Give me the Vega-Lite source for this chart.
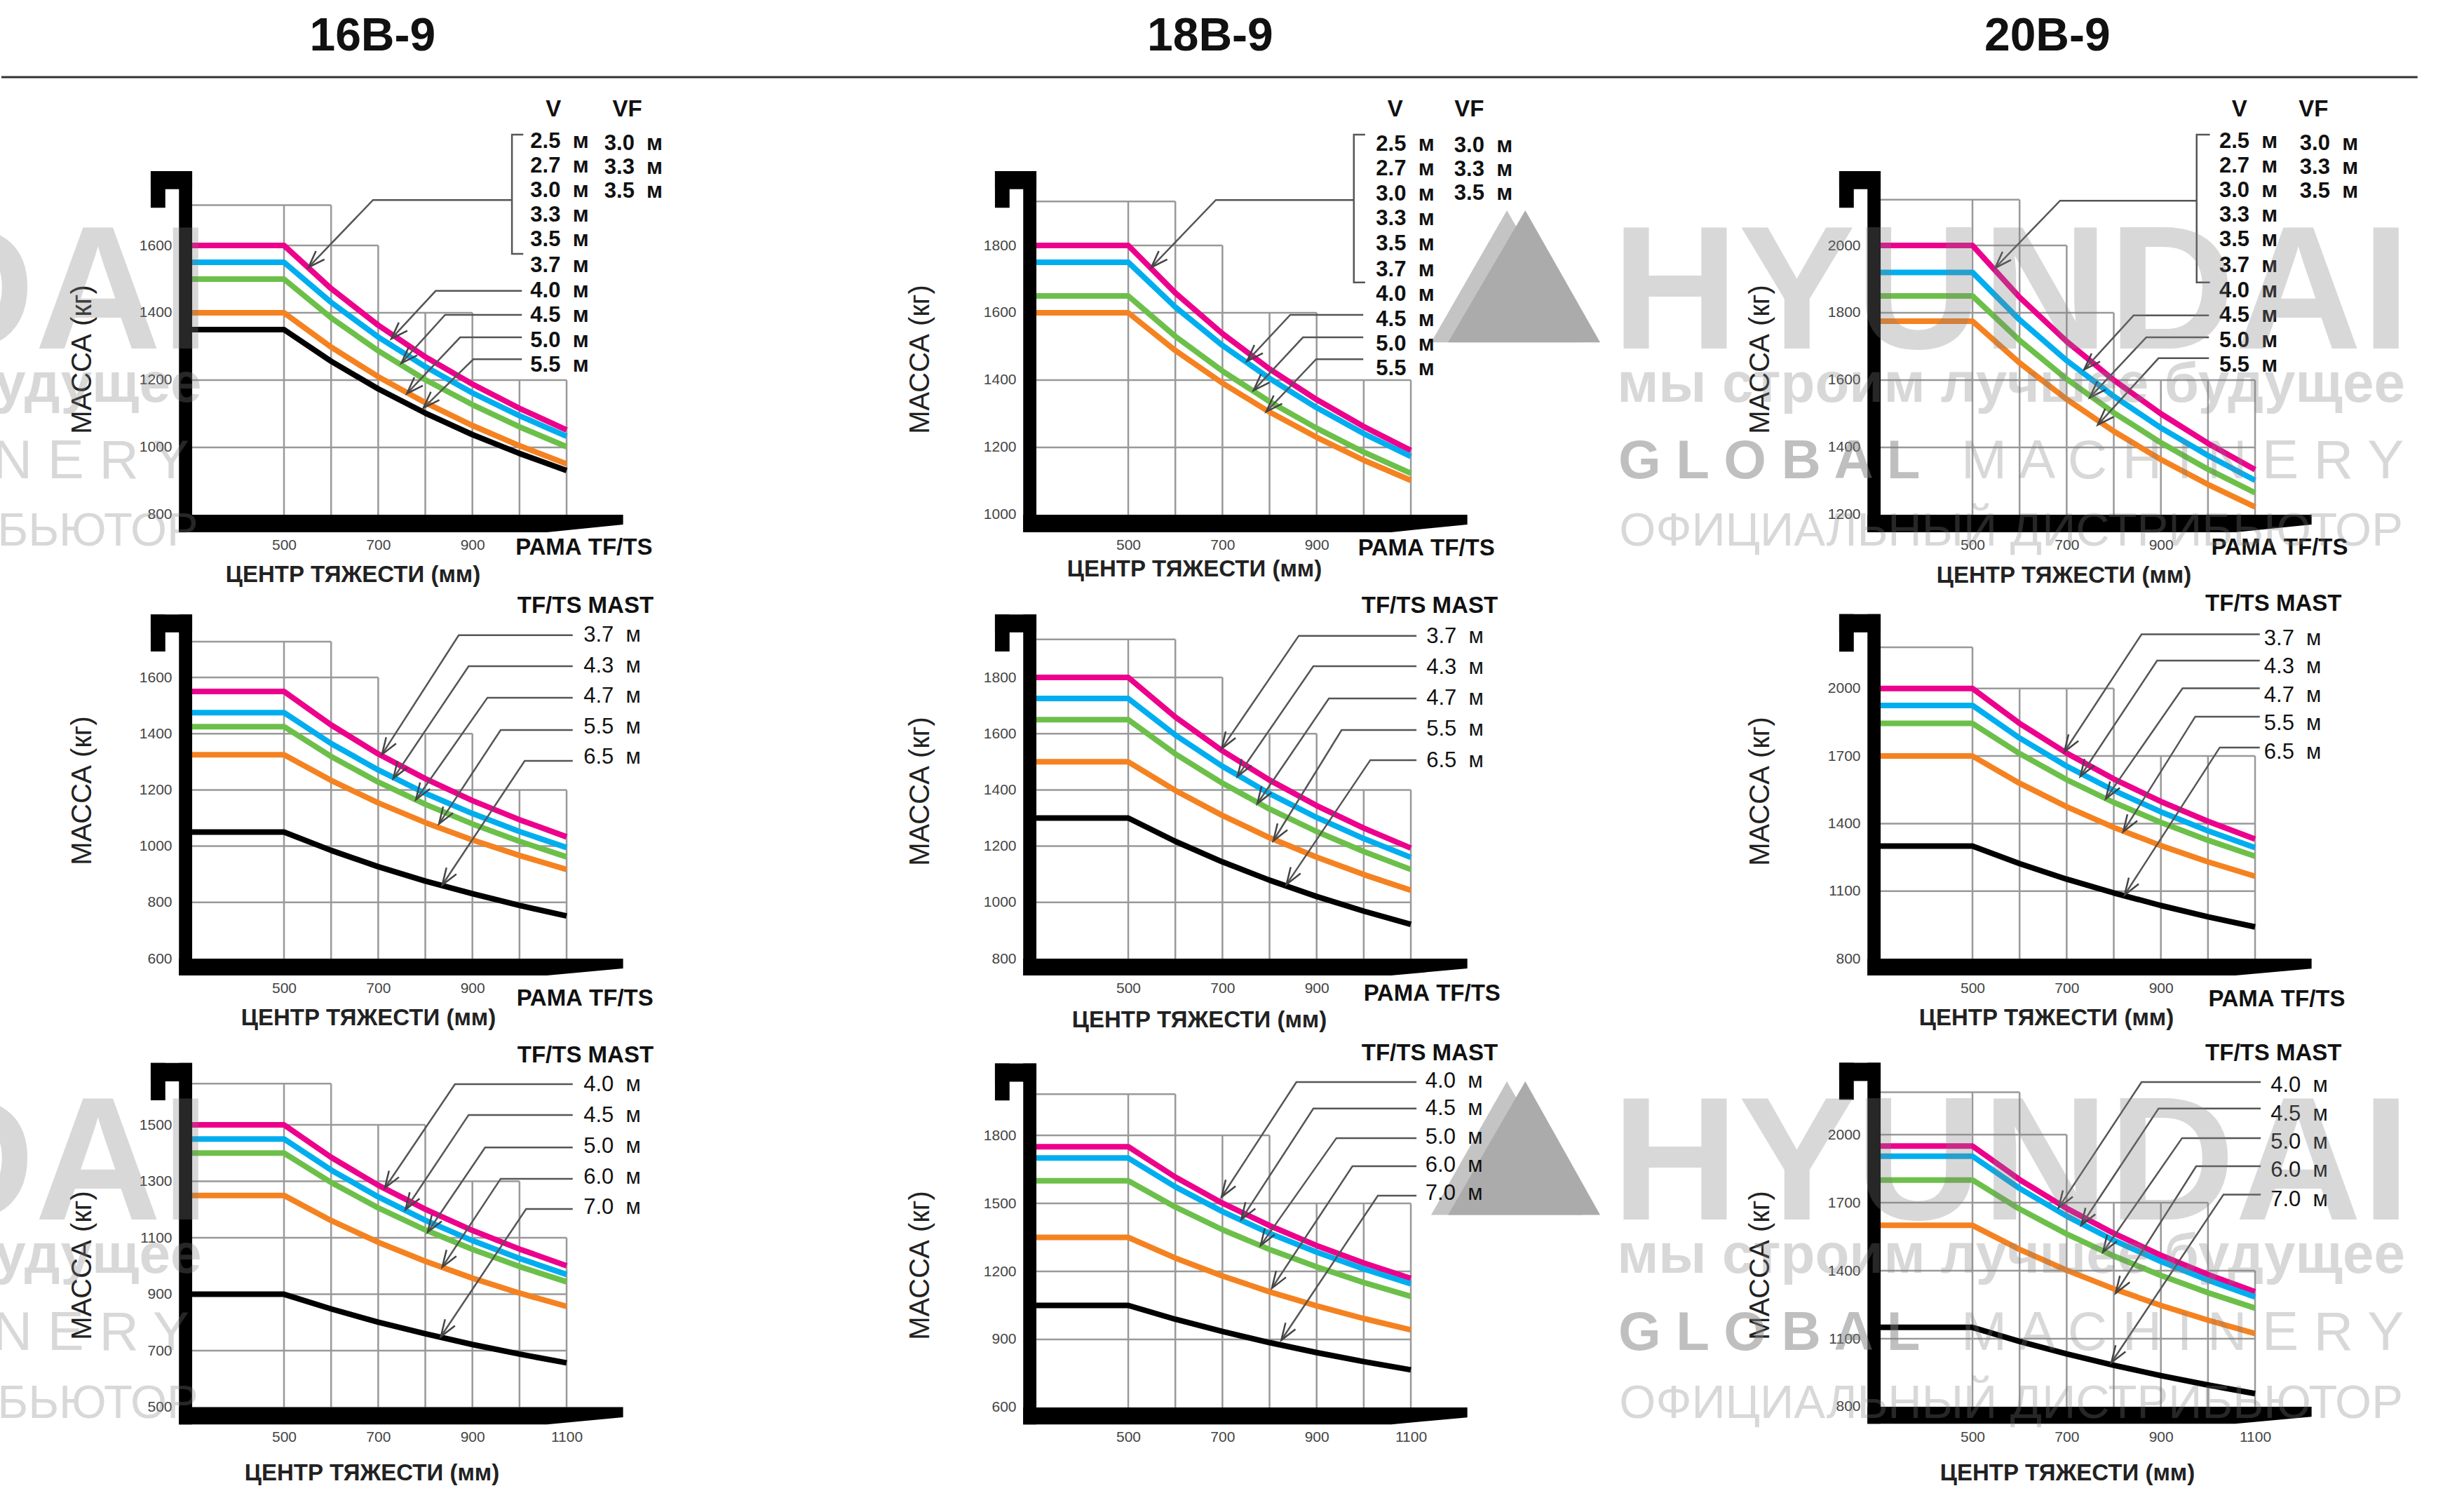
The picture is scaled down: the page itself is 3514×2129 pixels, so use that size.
{"$schema":"https://vega.github.io/schema/vega-lite/v6.json","padding":0,"autosize":{"type":"pad"},"background":"white","bounds":"flush","spacing":0,"columns":3,"align":"each",
"config":{"numberFormat":"d","view":{"stroke":null},"rule":{"color":"#999999","strokeWidth":2.5},"line":{"color":"#555555","strokeWidth":2.5},"axis":{"domain":false,"ticks":false,"grid":false,"labelFont":"Liberation Sans","labelFontSize":21,"labelColor":"#444","labelOverlap":false,"labelFlush":false,"titleFont":"Liberation Sans","titleColor":"#222","titleBaseline":"middle"},"axisX":{"titleFontSize":33,"titleFontWeight":"bold","labelPadding":7,"labelAngle":0},"axisY":{"titleFontSize":40,"titleFontWeight":"normal","labelPadding":10},
"text":{"font":"Liberation Sans","baseline":"middle","color":"#111"},
"style":{"lb":{"align":"left","fontSize":31,"fontWeight":"bold"},"lr":{"align":"left","fontSize":31,"fontWeight":"normal"},"ce":{"align":"center","fontSize":33,"fontWeight":"bold"},"hd":{"align":"center","fontSize":66,"fontWeight":"bold"},"wm":{"baseline":"alphabetic","color":"#808080","opacity":0.3}}},
"datasets":{
"a1":[
{"k":"g","x":500,"x2":500,"y":800,"y2":1720},{"k":"g","x":600,"x2":600,"y":800,"y2":1720},{"k":"g","x":700,"x2":700,"y":800,"y2":1600},{"k":"g","x":800,"x2":800,"y":800,"y2":1400},{"k":"g","x":900,"x2":900,"y":800,"y2":1400},{"k":"g","x":1000,"x2":1000,"y":800,"y2":1200},{"k":"g","x":1100,"x2":1100,"y":800,"y2":1200},
{"k":"g","x":305,"x2":600,"y":1720,"y2":1720},{"k":"g","x":305,"x2":700,"y":1600,"y2":1600},{"k":"g","x":305,"x2":900,"y":1400,"y2":1400},{"k":"g","x":305,"x2":1100,"y":1200,"y2":1200},{"k":"g","x":305,"x2":1100,"y":1000,"y2":1000},
{"k":"c","s":"m","x":305,"y":1600},{"k":"c","s":"m","x":500,"y":1600},{"k":"c","s":"m","x":600,"y":1472},{"k":"c","s":"m","x":700,"y":1363},{"k":"c","s":"m","x":800,"y":1269},{"k":"c","s":"m","x":900,"y":1188},{"k":"c","s":"m","x":1000,"y":1116},{"k":"c","s":"m","x":1100,"y":1052},
{"k":"c","s":"b","x":305,"y":1550},{"k":"c","s":"b","x":500,"y":1550},{"k":"c","s":"b","x":600,"y":1431},{"k":"c","s":"b","x":700,"y":1328},{"k":"c","s":"b","x":800,"y":1240},{"k":"c","s":"b","x":900,"y":1162},{"k":"c","s":"b","x":1000,"y":1094},{"k":"c","s":"b","x":1100,"y":1033},
{"k":"c","s":"g","x":305,"y":1500},{"k":"c","s":"g","x":500,"y":1500},{"k":"c","s":"g","x":600,"y":1385},{"k":"c","s":"g","x":700,"y":1287},{"k":"c","s":"g","x":800,"y":1201},{"k":"c","s":"g","x":900,"y":1127},{"k":"c","s":"g","x":1000,"y":1061},{"k":"c","s":"g","x":1100,"y":1002},
{"k":"c","s":"o","x":305,"y":1400},{"k":"c","s":"o","x":500,"y":1400},{"k":"c","s":"o","x":600,"y":1298},{"k":"c","s":"o","x":700,"y":1210},{"k":"c","s":"o","x":800,"y":1133},{"k":"c","s":"o","x":900,"y":1065},{"k":"c","s":"o","x":1000,"y":1005},{"k":"c","s":"o","x":1100,"y":951},
{"k":"c","s":"k","x":305,"y":1350},{"k":"c","s":"k","x":500,"y":1350},{"k":"c","s":"k","x":600,"y":1256},{"k":"c","s":"k","x":700,"y":1174},{"k":"c","s":"k","x":800,"y":1102},{"k":"c","s":"k","x":900,"y":1038},{"k":"c","s":"k","x":1000,"y":982},{"k":"c","s":"k","x":1100,"y":931},
{"k":"f","x":277,"x2":305,"y":748,"y2":1821},{"k":"f","x":217,"x2":305,"y":1767,"y2":1821},{"k":"f","x":217,"x2":248,"y":1712,"y2":1821},
{"k":"b","x":277,"y":800,"y2":748},{"k":"b","x":1058,"y":800,"y2":748},{"k":"b","x":1220,"y":800,"y2":771},
{"k":"l","id":0,"x":1008,"y":1929},{"k":"l","id":0,"x":984,"y":1929},{"k":"l","id":0,"x":984,"y":1575},{"k":"l","id":0,"x":1008,"y":1575},
{"k":"l","id":1,"x":984,"y":1735},{"k":"l","id":1,"x":689,"y":1735},{"k":"l","id":1,"x":552,"y":1535,"a":1},
{"k":"l","id":2,"x":1005,"y":1465},{"k":"l","id":2,"x":822,"y":1465},{"k":"l","id":2,"x":728,"y":1323,"a":1},
{"k":"l","id":3,"x":1005,"y":1394},{"k":"l","id":3,"x":842,"y":1394},{"k":"l","id":3,"x":749,"y":1250,"a":1},
{"k":"l","id":4,"x":1005,"y":1327},{"k":"l","id":4,"x":874,"y":1327},{"k":"l","id":4,"x":761,"y":1160,"a":1},
{"k":"l","id":5,"x":1005,"y":1262},{"k":"l","id":5,"x":902,"y":1262},{"k":"l","id":5,"x":796,"y":1117,"a":1},
{"k":"t","x":1023,"y":1908,"t":"2.5\u00a0 м"},{"k":"t","x":1023,"y":1835,"t":"2.7\u00a0 м"},{"k":"t","x":1023,"y":1762,"t":"3.0\u00a0 м"},{"k":"t","x":1023,"y":1690,"t":"3.3\u00a0 м"},{"k":"t","x":1023,"y":1616,"t":"3.5\u00a0 м"},{"k":"t","x":1023,"y":1540,"t":"3.7\u00a0 м"},{"k":"t","x":1023,"y":1465,"t":"4.0\u00a0 м"},{"k":"t","x":1023,"y":1392,"t":"4.5\u00a0 м"},{"k":"t","x":1023,"y":1317,"t":"5.0\u00a0 м"},{"k":"t","x":1023,"y":1244,"t":"5.5\u00a0 м"},
{"k":"t","x":1180,"y":1902,"t":"3.0\u00a0 м"},{"k":"t","x":1180,"y":1831,"t":"3.3\u00a0 м"},{"k":"t","x":1180,"y":1760,"t":"3.5\u00a0 м"},
{"k":"u","x":1072,"y":2004,"t":"V"},{"k":"u","x":1229,"y":2004,"t":"VF"},{"k":"u","x":1137,"y":702,"t":"РАМА TF/TS"},
{"k":"h","x":688,"y":2221,"t":"16B-9"},{"k":"r","x":-100,"x2":1689.5,"y":2100,"y2":2100},
{"k":"W","x":343,"y":1294,"t":"DAI"},{"k":"X","x":325,"y":1135,"t":"удущее"},{"k":"Z","x":299,"y":908,"t":"N E R Y"},{"k":"O","x":318,"y":708,"t":"БЬЮТОР"}],
"b1":[
{"k":"g","x":500,"x2":500,"y":1000,"y2":1931},{"k":"g","x":600,"x2":600,"y":1000,"y2":1931},{"k":"g","x":700,"x2":700,"y":1000,"y2":1800},{"k":"g","x":800,"x2":800,"y":1000,"y2":1600},{"k":"g","x":900,"x2":900,"y":1000,"y2":1600},{"k":"g","x":1000,"x2":1000,"y":1000,"y2":1400},{"k":"g","x":1100,"x2":1100,"y":1000,"y2":1400},
{"k":"g","x":305,"x2":600,"y":1931,"y2":1931},{"k":"g","x":305,"x2":700,"y":1800,"y2":1800},{"k":"g","x":305,"x2":900,"y":1600,"y2":1600},{"k":"g","x":305,"x2":1100,"y":1400,"y2":1400},{"k":"g","x":305,"x2":1100,"y":1200,"y2":1200},
{"k":"c","s":"m","x":305,"y":1800},{"k":"c","s":"m","x":500,"y":1800},{"k":"c","s":"m","x":600,"y":1659},{"k":"c","s":"m","x":700,"y":1538},{"k":"c","s":"m","x":800,"y":1433},{"k":"c","s":"m","x":900,"y":1342},{"k":"c","s":"m","x":1000,"y":1262},{"k":"c","s":"m","x":1100,"y":1191},
{"k":"c","s":"b","x":305,"y":1750},{"k":"c","s":"b","x":500,"y":1750},{"k":"c","s":"b","x":600,"y":1617},{"k":"c","s":"b","x":700,"y":1503},{"k":"c","s":"b","x":800,"y":1405},{"k":"c","s":"b","x":900,"y":1318},{"k":"c","s":"b","x":1000,"y":1241},{"k":"c","s":"b","x":1100,"y":1173},
{"k":"c","s":"g","x":305,"y":1650},{"k":"c","s":"g","x":500,"y":1650},{"k":"c","s":"g","x":600,"y":1530},{"k":"c","s":"g","x":700,"y":1427},{"k":"c","s":"g","x":800,"y":1336},{"k":"c","s":"g","x":900,"y":1257},{"k":"c","s":"g","x":1000,"y":1186},{"k":"c","s":"g","x":1100,"y":1123},
{"k":"c","s":"o","x":305,"y":1600},{"k":"c","s":"o","x":500,"y":1600},{"k":"c","s":"o","x":600,"y":1488},{"k":"c","s":"o","x":700,"y":1391},{"k":"c","s":"o","x":800,"y":1305},{"k":"c","s":"o","x":900,"y":1230},{"k":"c","s":"o","x":1000,"y":1162},{"k":"c","s":"o","x":1100,"y":1102},
{"k":"f","x":277,"x2":305,"y":948,"y2":2021},{"k":"f","x":217,"x2":305,"y":1967,"y2":2021},{"k":"f","x":217,"x2":248,"y":1912,"y2":2021},
{"k":"b","x":277,"y":1000,"y2":948},{"k":"b","x":1058,"y":1000,"y2":948},{"k":"b","x":1220,"y":1000,"y2":971},
{"k":"l","id":0,"x":1003,"y":2129},{"k":"l","id":0,"x":979,"y":2129},{"k":"l","id":0,"x":979,"y":1690},{"k":"l","id":0,"x":1003,"y":1690},
{"k":"l","id":1,"x":979,"y":1935},{"k":"l","id":1,"x":686,"y":1935},{"k":"l","id":1,"x":549,"y":1735,"a":1},
{"k":"l","id":3,"x":999,"y":1594},{"k":"l","id":3,"x":844,"y":1594},{"k":"l","id":3,"x":752,"y":1456,"a":1},
{"k":"l","id":4,"x":999,"y":1527},{"k":"l","id":4,"x":871,"y":1527},{"k":"l","id":4,"x":766,"y":1369,"a":1},
{"k":"l","id":5,"x":999,"y":1462},{"k":"l","id":5,"x":899,"y":1462},{"k":"l","id":5,"x":793,"y":1306,"a":1},
{"k":"t","x":1026,"y":2100,"t":"2.5\u00a0 м"},{"k":"t","x":1026,"y":2027,"t":"2.7\u00a0 м"},{"k":"t","x":1026,"y":1952,"t":"3.0\u00a0 м"},{"k":"t","x":1026,"y":1879,"t":"3.3\u00a0 м"},{"k":"t","x":1026,"y":1804,"t":"3.5\u00a0 м"},{"k":"t","x":1026,"y":1727,"t":"3.7\u00a0 м"},{"k":"t","x":1026,"y":1654,"t":"4.0\u00a0 м"},{"k":"t","x":1026,"y":1579,"t":"4.5\u00a0 м"},{"k":"t","x":1026,"y":1507,"t":"5.0\u00a0 м"},{"k":"t","x":1026,"y":1433,"t":"5.5\u00a0 м"},
{"k":"t","x":1192,"y":2096,"t":"3.0\u00a0 м"},{"k":"t","x":1192,"y":2025,"t":"3.3\u00a0 м"},{"k":"t","x":1192,"y":1954,"t":"3.5\u00a0 м"},
{"k":"u","x":1067,"y":2204,"t":"V"},{"k":"u","x":1224,"y":2204,"t":"VF"},{"k":"u","x":1133,"y":900,"t":"РАМА TF/TS"},
{"k":"h","x":674,"y":2421,"t":"18B-9"},{"k":"r","x":-103,"x2":1689.5,"y":2300,"y2":2300},
{"k":"w1","x":1143,"y":1512,"y2":1512},{"k":"w1","x":1304,"y":1904,"y2":1512},{"k":"w1","x":1465,"y":1512,"y2":1512},
{"k":"w2","x":1179,"y":1512,"y2":1512},{"k":"w2","x":1343,"y":1904,"y2":1512},{"k":"w2","x":1502,"y":1512,"y2":1512}],
"c1":[
{"k":"g","x":500,"x2":500,"y":1200,"y2":2136},{"k":"g","x":600,"x2":600,"y":1200,"y2":2136},{"k":"g","x":700,"x2":700,"y":1200,"y2":2000},{"k":"g","x":800,"x2":800,"y":1200,"y2":1800},{"k":"g","x":900,"x2":900,"y":1200,"y2":1600},{"k":"g","x":1000,"x2":1000,"y":1200,"y2":1600},{"k":"g","x":1100,"x2":1100,"y":1200,"y2":1600},
{"k":"g","x":305,"x2":600,"y":2136,"y2":2136},{"k":"g","x":305,"x2":700,"y":2000,"y2":2000},{"k":"g","x":305,"x2":800,"y":1800,"y2":1800},{"k":"g","x":305,"x2":1100,"y":1600,"y2":1600},{"k":"g","x":305,"x2":1100,"y":1400,"y2":1400},
{"k":"c","s":"m","x":305,"y":2000},{"k":"c","s":"m","x":500,"y":2000},{"k":"c","s":"m","x":600,"y":1846},{"k":"c","s":"m","x":700,"y":1715},{"k":"c","s":"m","x":800,"y":1600},{"k":"c","s":"m","x":900,"y":1500},{"k":"c","s":"m","x":1000,"y":1412},{"k":"c","s":"m","x":1100,"y":1334},
{"k":"c","s":"b","x":305,"y":1920},{"k":"c","s":"b","x":500,"y":1920},{"k":"c","s":"b","x":600,"y":1779},{"k":"c","s":"b","x":700,"y":1658},{"k":"c","s":"b","x":800,"y":1552},{"k":"c","s":"b","x":900,"y":1458},{"k":"c","s":"b","x":1000,"y":1376},{"k":"c","s":"b","x":1100,"y":1302},
{"k":"c","s":"g","x":305,"y":1850},{"k":"c","s":"g","x":500,"y":1850},{"k":"c","s":"g","x":600,"y":1718},{"k":"c","s":"g","x":700,"y":1603},{"k":"c","s":"g","x":800,"y":1503},{"k":"c","s":"g","x":900,"y":1414},{"k":"c","s":"g","x":1000,"y":1335},{"k":"c","s":"g","x":1100,"y":1265},
{"k":"c","s":"o","x":305,"y":1775},{"k":"c","s":"o","x":500,"y":1775},{"k":"c","s":"o","x":600,"y":1651},{"k":"c","s":"o","x":700,"y":1543},{"k":"c","s":"o","x":800,"y":1448},{"k":"c","s":"o","x":900,"y":1364},{"k":"c","s":"o","x":1000,"y":1290},{"k":"c","s":"o","x":1100,"y":1223},
{"k":"f","x":277,"x2":305,"y":1148,"y2":2221},{"k":"f","x":217,"x2":305,"y":2167,"y2":2221},{"k":"f","x":217,"x2":248,"y":2112,"y2":2221},
{"k":"b","x":277,"y":1200,"y2":1148},{"k":"b","x":1058,"y":1200,"y2":1148},{"k":"b","x":1220,"y":1200,"y2":1171},
{"k":"l","id":0,"x":1004,"y":2329},{"k":"l","id":0,"x":976,"y":2329},{"k":"l","id":0,"x":976,"y":1890},{"k":"l","id":0,"x":1004,"y":1890},
{"k":"l","id":1,"x":976,"y":2133},{"k":"l","id":1,"x":686,"y":2133},{"k":"l","id":1,"x":548,"y":1933,"a":1},
{"k":"l","id":3,"x":1002,"y":1792},{"k":"l","id":3,"x":842,"y":1792},{"k":"l","id":3,"x":737,"y":1631,"a":1},
{"k":"l","id":4,"x":1002,"y":1727},{"k":"l","id":4,"x":869,"y":1727},{"k":"l","id":4,"x":749,"y":1548,"a":1},
{"k":"l","id":5,"x":1002,"y":1665},{"k":"l","id":5,"x":895,"y":1665},{"k":"l","id":5,"x":766,"y":1467,"a":1},
{"k":"t","x":1024,"y":2308,"t":"2.5\u00a0 м"},{"k":"t","x":1024,"y":2235,"t":"2.7\u00a0 м"},{"k":"t","x":1024,"y":2162,"t":"3.0\u00a0 м"},{"k":"t","x":1024,"y":2090,"t":"3.3\u00a0 м"},{"k":"t","x":1024,"y":2016,"t":"3.5\u00a0 м"},{"k":"t","x":1024,"y":1940,"t":"3.7\u00a0 м"},{"k":"t","x":1024,"y":1865,"t":"4.0\u00a0 м"},{"k":"t","x":1024,"y":1792,"t":"4.5\u00a0 м"},{"k":"t","x":1024,"y":1717,"t":"5.0\u00a0 м"},{"k":"t","x":1024,"y":1644,"t":"5.5\u00a0 м"},
{"k":"t","x":1195,"y":2302,"t":"3.0\u00a0 м"},{"k":"t","x":1195,"y":2231,"t":"3.3\u00a0 м"},{"k":"t","x":1195,"y":2160,"t":"3.5\u00a0 м"},
{"k":"u","x":1067,"y":2404,"t":"V"},{"k":"u","x":1224,"y":2404,"t":"VF"},{"k":"u","x":1152,"y":1102,"t":"РАМА TF/TS"},
{"k":"h","x":659,"y":2621,"t":"20B-9"},{"k":"r","x":-103,"x2":1445,"y":2500,"y2":2500},
{"k":"W","x":582,"y":1694,"t":"HYUNDAI"},{"k":"X","x":582,"y":1535,"t":"мы строим лучшее будущее"},{"k":"Y","x":-252,"y":1308,"t":"G L O B A L"},{"k":"Z","x":476,"y":1308,"t":"M A C H I N E R Y"},{"k":"O","x":582,"y":1108,"t":"ОФИЦИАЛЬНЫЙ ДИСТРИБЬЮТОР"}],
"a2":[
{"k":"g","x":500,"x2":500,"y":600,"y2":1727},{"k":"g","x":600,"x2":600,"y":600,"y2":1727},{"k":"g","x":700,"x2":700,"y":600,"y2":1600},{"k":"g","x":800,"x2":800,"y":600,"y2":1400},{"k":"g","x":900,"x2":900,"y":600,"y2":1400},{"k":"g","x":1000,"x2":1000,"y":600,"y2":1200},{"k":"g","x":1100,"x2":1100,"y":600,"y2":1200},
{"k":"g","x":305,"x2":600,"y":1727,"y2":1727},{"k":"g","x":305,"x2":700,"y":1600,"y2":1600},{"k":"g","x":305,"x2":900,"y":1400,"y2":1400},{"k":"g","x":305,"x2":1100,"y":1200,"y2":1200},{"k":"g","x":305,"x2":1100,"y":1000,"y2":1000},{"k":"g","x":305,"x2":1100,"y":800,"y2":800},
{"k":"c","s":"m","x":305,"y":1550},{"k":"c","s":"m","x":500,"y":1550},{"k":"c","s":"m","x":600,"y":1431},{"k":"c","s":"m","x":700,"y":1328},{"k":"c","s":"m","x":800,"y":1240},{"k":"c","s":"m","x":900,"y":1162},{"k":"c","s":"m","x":1000,"y":1094},{"k":"c","s":"m","x":1100,"y":1033},
{"k":"c","s":"b","x":305,"y":1475},{"k":"c","s":"b","x":500,"y":1475},{"k":"c","s":"b","x":600,"y":1365},{"k":"c","s":"b","x":700,"y":1271},{"k":"c","s":"b","x":800,"y":1188},{"k":"c","s":"b","x":900,"y":1116},{"k":"c","s":"b","x":1000,"y":1052},{"k":"c","s":"b","x":1100,"y":995},
{"k":"c","s":"g","x":305,"y":1425},{"k":"c","s":"g","x":500,"y":1425},{"k":"c","s":"g","x":600,"y":1319},{"k":"c","s":"g","x":700,"y":1228},{"k":"c","s":"g","x":800,"y":1149},{"k":"c","s":"g","x":900,"y":1079},{"k":"c","s":"g","x":1000,"y":1017},{"k":"c","s":"g","x":1100,"y":962},
{"k":"c","s":"o","x":305,"y":1325},{"k":"c","s":"o","x":500,"y":1325},{"k":"c","s":"o","x":600,"y":1234},{"k":"c","s":"o","x":700,"y":1154},{"k":"c","s":"o","x":800,"y":1084},{"k":"c","s":"o","x":900,"y":1022},{"k":"c","s":"o","x":1000,"y":967},{"k":"c","s":"o","x":1100,"y":917},
{"k":"c","s":"k","x":305,"y":1050},{"k":"c","s":"k","x":500,"y":1050},{"k":"c","s":"k","x":600,"y":985},{"k":"c","s":"k","x":700,"y":927},{"k":"c","s":"k","x":800,"y":876},{"k":"c","s":"k","x":900,"y":831},{"k":"c","s":"k","x":1000,"y":789},{"k":"c","s":"k","x":1100,"y":752},
{"k":"f","x":277,"x2":305,"y":540,"y2":1824},{"k":"f","x":217,"x2":305,"y":1760,"y2":1824},{"k":"f","x":217,"x2":248,"y":1692,"y2":1824},
{"k":"b","x":277,"y":600,"y2":540},{"k":"b","x":1058,"y":600,"y2":540},{"k":"b","x":1220,"y":600,"y2":565},
{"k":"l","id":1,"x":1113,"y":1750},{"k":"l","id":1,"x":871,"y":1750},{"k":"l","id":1,"x":708,"y":1326,"a":1},
{"k":"l","id":2,"x":1113,"y":1640},{"k":"l","id":2,"x":892,"y":1640},{"k":"l","id":2,"x":732,"y":1241,"a":1},
{"k":"l","id":3,"x":1113,"y":1528},{"k":"l","id":3,"x":932,"y":1528},{"k":"l","id":3,"x":780,"y":1165,"a":1},
{"k":"l","id":4,"x":1113,"y":1413},{"k":"l","id":4,"x":960,"y":1413},{"k":"l","id":4,"x":829,"y":1079,"a":1},
{"k":"l","id":5,"x":1113,"y":1303},{"k":"l","id":5,"x":1011,"y":1303},{"k":"l","id":5,"x":836,"y":862,"a":1},
{"k":"t","x":1136,"y":1750,"t":"3.7\u00a0 м"},{"k":"t","x":1136,"y":1640,"t":"4.3\u00a0 м"},{"k":"t","x":1136,"y":1533,"t":"4.7\u00a0 м"},{"k":"t","x":1136,"y":1423,"t":"5.5\u00a0 м"},{"k":"t","x":1136,"y":1316,"t":"6.5\u00a0 м"},
{"k":"u","x":1140,"y":1854,"t":"TF/TS  MAST"},{"k":"u","x":1139,"y":458,"t":"РАМА TF/TS"}],
"b2":[
{"k":"g","x":500,"x2":500,"y":800,"y2":1935},{"k":"g","x":600,"x2":600,"y":800,"y2":1935},{"k":"g","x":700,"x2":700,"y":800,"y2":1800},{"k":"g","x":800,"x2":800,"y":800,"y2":1600},{"k":"g","x":900,"x2":900,"y":800,"y2":1600},{"k":"g","x":1000,"x2":1000,"y":800,"y2":1400},{"k":"g","x":1100,"x2":1100,"y":800,"y2":1400},
{"k":"g","x":305,"x2":600,"y":1935,"y2":1935},{"k":"g","x":305,"x2":700,"y":1800,"y2":1800},{"k":"g","x":305,"x2":900,"y":1600,"y2":1600},{"k":"g","x":305,"x2":1100,"y":1400,"y2":1400},{"k":"g","x":305,"x2":1100,"y":1200,"y2":1200},{"k":"g","x":305,"x2":1100,"y":1000,"y2":1000},
{"k":"c","s":"m","x":305,"y":1800},{"k":"c","s":"m","x":500,"y":1800},{"k":"c","s":"m","x":600,"y":1659},{"k":"c","s":"m","x":700,"y":1539},{"k":"c","s":"m","x":800,"y":1435},{"k":"c","s":"m","x":900,"y":1344},{"k":"c","s":"m","x":1000,"y":1264},{"k":"c","s":"m","x":1100,"y":1193},
{"k":"c","s":"b","x":305,"y":1725},{"k":"c","s":"b","x":500,"y":1725},{"k":"c","s":"b","x":600,"y":1595},{"k":"c","s":"b","x":700,"y":1484},{"k":"c","s":"b","x":800,"y":1387},{"k":"c","s":"b","x":900,"y":1302},{"k":"c","s":"b","x":1000,"y":1227},{"k":"c","s":"b","x":1100,"y":1160},
{"k":"c","s":"g","x":305,"y":1650},{"k":"c","s":"g","x":500,"y":1650},{"k":"c","s":"g","x":600,"y":1528},{"k":"c","s":"g","x":700,"y":1424},{"k":"c","s":"g","x":800,"y":1332},{"k":"c","s":"g","x":900,"y":1252},{"k":"c","s":"g","x":1000,"y":1181},{"k":"c","s":"g","x":1100,"y":1117},
{"k":"c","s":"o","x":305,"y":1500},{"k":"c","s":"o","x":500,"y":1500},{"k":"c","s":"o","x":600,"y":1398},{"k":"c","s":"o","x":700,"y":1309},{"k":"c","s":"o","x":800,"y":1230},{"k":"c","s":"o","x":900,"y":1161},{"k":"c","s":"o","x":1000,"y":1099},{"k":"c","s":"o","x":1100,"y":1043},
{"k":"c","s":"k","x":305,"y":1300},{"k":"c","s":"k","x":500,"y":1300},{"k":"c","s":"k","x":600,"y":1217},{"k":"c","s":"k","x":700,"y":1144},{"k":"c","s":"k","x":800,"y":1079},{"k":"c","s":"k","x":900,"y":1021},{"k":"c","s":"k","x":1000,"y":969},{"k":"c","s":"k","x":1100,"y":922},
{"k":"f","x":277,"x2":305,"y":740,"y2":2024},{"k":"f","x":217,"x2":305,"y":1960,"y2":2024},{"k":"f","x":217,"x2":248,"y":1892,"y2":2024},
{"k":"b","x":277,"y":800,"y2":740},{"k":"b","x":1058,"y":800,"y2":740},{"k":"b","x":1220,"y":800,"y2":765},
{"k":"l","id":1,"x":1112,"y":1948},{"k":"l","id":1,"x":862,"y":1948},{"k":"l","id":1,"x":698,"y":1546,"a":1},
{"k":"l","id":2,"x":1112,"y":1840},{"k":"l","id":2,"x":893,"y":1840},{"k":"l","id":2,"x":732,"y":1448,"a":1},
{"k":"l","id":3,"x":1112,"y":1725},{"k":"l","id":3,"x":926,"y":1725},{"k":"l","id":3,"x":774,"y":1351,"a":1},
{"k":"l","id":4,"x":1112,"y":1613},{"k":"l","id":4,"x":953,"y":1613},{"k":"l","id":4,"x":808,"y":1219,"a":1},
{"k":"l","id":5,"x":1112,"y":1506},{"k":"l","id":5,"x":1014,"y":1506},{"k":"l","id":5,"x":836,"y":1064,"a":1},
{"k":"t","x":1133,"y":1944,"t":"3.7\u00a0 м"},{"k":"t","x":1133,"y":1835,"t":"4.3\u00a0 м"},{"k":"t","x":1133,"y":1725,"t":"4.7\u00a0 м"},{"k":"t","x":1133,"y":1616,"t":"5.5\u00a0 м"},{"k":"t","x":1133,"y":1503,"t":"6.5\u00a0 м"},
{"k":"u","x":1140,"y":2054,"t":"TF/TS  MAST"},{"k":"u","x":1145,"y":675,"t":"РАМА TF/TS"}],
"c2":[
{"k":"g","x":500,"x2":500,"y":800,"y2":2183},{"k":"g","x":600,"x2":600,"y":800,"y2":2000},{"k":"g","x":700,"x2":700,"y":800,"y2":2000},{"k":"g","x":800,"x2":800,"y":800,"y2":2000},{"k":"g","x":900,"x2":900,"y":800,"y2":1700},{"k":"g","x":1000,"x2":1000,"y":800,"y2":1700},{"k":"g","x":1100,"x2":1100,"y":800,"y2":1700},
{"k":"g","x":305,"x2":500,"y":2183,"y2":2183},{"k":"g","x":305,"x2":800,"y":2000,"y2":2000},{"k":"g","x":305,"x2":1100,"y":1700,"y2":1700},{"k":"g","x":305,"x2":1100,"y":1400,"y2":1400},{"k":"g","x":305,"x2":1100,"y":1100,"y2":1100},
{"k":"c","s":"m","x":305,"y":2000},{"k":"c","s":"m","x":500,"y":2000},{"k":"c","s":"m","x":600,"y":1845},{"k":"c","s":"m","x":700,"y":1713},{"k":"c","s":"m","x":800,"y":1598},{"k":"c","s":"m","x":900,"y":1498},{"k":"c","s":"m","x":1000,"y":1410},{"k":"c","s":"m","x":1100,"y":1331},
{"k":"c","s":"b","x":305,"y":1925},{"k":"c","s":"b","x":500,"y":1925},{"k":"c","s":"b","x":600,"y":1780},{"k":"c","s":"b","x":700,"y":1655},{"k":"c","s":"b","x":800,"y":1547},{"k":"c","s":"b","x":900,"y":1452},{"k":"c","s":"b","x":1000,"y":1368},{"k":"c","s":"b","x":1100,"y":1293},
{"k":"c","s":"g","x":305,"y":1845},{"k":"c","s":"g","x":500,"y":1845},{"k":"c","s":"g","x":600,"y":1711},{"k":"c","s":"g","x":700,"y":1595},{"k":"c","s":"g","x":800,"y":1494},{"k":"c","s":"g","x":900,"y":1405},{"k":"c","s":"g","x":1000,"y":1326},{"k":"c","s":"g","x":1100,"y":1255},
{"k":"c","s":"o","x":305,"y":1700},{"k":"c","s":"o","x":500,"y":1700},{"k":"c","s":"o","x":600,"y":1579},{"k":"c","s":"o","x":700,"y":1475},{"k":"c","s":"o","x":800,"y":1383},{"k":"c","s":"o","x":900,"y":1302},{"k":"c","s":"o","x":1000,"y":1230},{"k":"c","s":"o","x":1100,"y":1166},
{"k":"c","s":"k","x":305,"y":1300},{"k":"c","s":"k","x":500,"y":1300},{"k":"c","s":"k","x":600,"y":1222},{"k":"c","s":"k","x":700,"y":1153},{"k":"c","s":"k","x":800,"y":1092},{"k":"c","s":"k","x":900,"y":1036},{"k":"c","s":"k","x":1000,"y":986},{"k":"c","s":"k","x":1100,"y":941},
{"k":"f","x":277,"x2":305,"y":725,"y2":2330},{"k":"f","x":217,"x2":305,"y":2249,"y2":2330},{"k":"f","x":217,"x2":248,"y":2164,"y2":2330},
{"k":"b","x":277,"y":800,"y2":725},{"k":"b","x":1058,"y":800,"y2":725},{"k":"b","x":1220,"y":800,"y2":756},
{"k":"l","id":1,"x":1110,"y":2241},{"k":"l","id":1,"x":859,"y":2241},{"k":"l","id":1,"x":695,"y":1719,"a":1},
{"k":"l","id":2,"x":1110,"y":2124},{"k":"l","id":2,"x":892,"y":2124},{"k":"l","id":2,"x":729,"y":1610,"a":1},
{"k":"l","id":3,"x":1110,"y":2001},{"k":"l","id":3,"x":946,"y":2001},{"k":"l","id":3,"x":783,"y":1510,"a":1},
{"k":"l","id":4,"x":1110,"y":1875},{"k":"l","id":4,"x":973,"y":1875},{"k":"l","id":4,"x":820,"y":1364,"a":1},
{"k":"l","id":5,"x":1110,"y":1738},{"k":"l","id":5,"x":1025,"y":1738},{"k":"l","id":5,"x":823,"y":1083,"a":1},
{"k":"t","x":1119,"y":2220,"t":"3.7\u00a0 м"},{"k":"t","x":1119,"y":2096,"t":"4.3\u00a0 м"},{"k":"t","x":1119,"y":1968,"t":"4.7\u00a0 м"},{"k":"t","x":1119,"y":1844,"t":"5.5\u00a0 м"},{"k":"t","x":1119,"y":1716,"t":"6.5\u00a0 м"},
{"k":"u","x":1139,"y":2376,"t":"TF/TS  MAST"},{"k":"u","x":1146,"y":618,"t":"РАМА TF/TS"}],
"a3":[
{"k":"g","x":500,"x2":500,"y":500,"y2":1646},{"k":"g","x":600,"x2":600,"y":500,"y2":1646},{"k":"g","x":700,"x2":700,"y":500,"y2":1500},{"k":"g","x":800,"x2":800,"y":500,"y2":1500},{"k":"g","x":900,"x2":900,"y":500,"y2":1300},{"k":"g","x":1000,"x2":1000,"y":500,"y2":1300},{"k":"g","x":1100,"x2":1100,"y":500,"y2":1100},
{"k":"g","x":305,"x2":600,"y":1646,"y2":1646},{"k":"g","x":305,"x2":800,"y":1500,"y2":1500},{"k":"g","x":305,"x2":1000,"y":1300,"y2":1300},{"k":"g","x":305,"x2":1100,"y":1100,"y2":1100},{"k":"g","x":305,"x2":1100,"y":900,"y2":900},{"k":"g","x":305,"x2":1100,"y":700,"y2":700},
{"k":"c","s":"m","x":305,"y":1500},{"k":"c","s":"m","x":500,"y":1500},{"k":"c","s":"m","x":600,"y":1385},{"k":"c","s":"m","x":700,"y":1286},{"k":"c","s":"m","x":800,"y":1201},{"k":"c","s":"m","x":900,"y":1126},{"k":"c","s":"m","x":1000,"y":1060},{"k":"c","s":"m","x":1100,"y":1001},
{"k":"c","s":"b","x":305,"y":1450},{"k":"c","s":"b","x":500,"y":1450},{"k":"c","s":"b","x":600,"y":1340},{"k":"c","s":"b","x":700,"y":1245},{"k":"c","s":"b","x":800,"y":1162},{"k":"c","s":"b","x":900,"y":1090},{"k":"c","s":"b","x":1000,"y":1027},{"k":"c","s":"b","x":1100,"y":970},
{"k":"c","s":"g","x":305,"y":1400},{"k":"c","s":"g","x":500,"y":1400},{"k":"c","s":"g","x":600,"y":1296},{"k":"c","s":"g","x":700,"y":1206},{"k":"c","s":"g","x":800,"y":1128},{"k":"c","s":"g","x":900,"y":1059},{"k":"c","s":"g","x":1000,"y":998},{"k":"c","s":"g","x":1100,"y":944},
{"k":"c","s":"o","x":305,"y":1250},{"k":"c","s":"o","x":500,"y":1250},{"k":"c","s":"o","x":600,"y":1161},{"k":"c","s":"o","x":700,"y":1084},{"k":"c","s":"o","x":800,"y":1017},{"k":"c","s":"o","x":900,"y":957},{"k":"c","s":"o","x":1000,"y":904},{"k":"c","s":"o","x":1100,"y":857},
{"k":"c","s":"k","x":305,"y":900},{"k":"c","s":"k","x":500,"y":900},{"k":"c","s":"k","x":600,"y":848},{"k":"c","s":"k","x":700,"y":801},{"k":"c","s":"k","x":800,"y":760},{"k":"c","s":"k","x":900,"y":722},{"k":"c","s":"k","x":1000,"y":688},{"k":"c","s":"k","x":1100,"y":657},
{"k":"f","x":277,"x2":305,"y":439,"y2":1719},{"k":"f","x":217,"x2":305,"y":1654,"y2":1719},{"k":"f","x":217,"x2":248,"y":1587,"y2":1719},
{"k":"b","x":277,"y":500,"y2":439},{"k":"b","x":1058,"y":500,"y2":439},{"k":"b","x":1220,"y":500,"y2":464},
{"k":"l","id":1,"x":1113,"y":1644},{"k":"l","id":1,"x":863,"y":1644},{"k":"l","id":1,"x":714,"y":1276,"a":1},
{"k":"l","id":2,"x":1113,"y":1535},{"k":"l","id":2,"x":892,"y":1535},{"k":"l","id":2,"x":758,"y":1200,"a":1},
{"k":"l","id":3,"x":1113,"y":1420},{"k":"l","id":3,"x":927,"y":1420},{"k":"l","id":3,"x":805,"y":1120,"a":1},
{"k":"l","id":4,"x":1113,"y":1309},{"k":"l","id":4,"x":960,"y":1309},{"k":"l","id":4,"x":836,"y":996,"a":1},
{"k":"l","id":5,"x":1113,"y":1202},{"k":"l","id":5,"x":1014,"y":1202},{"k":"l","id":5,"x":833,"y":750,"a":1},
{"k":"t","x":1136,"y":1642,"t":"4.0\u00a0 м"},{"k":"t","x":1136,"y":1532,"t":"4.5\u00a0 м"},{"k":"t","x":1136,"y":1423,"t":"5.0\u00a0 м"},{"k":"t","x":1136,"y":1314,"t":"6.0\u00a0 м"},{"k":"t","x":1136,"y":1207,"t":"7.0\u00a0 м"},
{"k":"u","x":1140,"y":1746,"t":"TF/TS  MAST"},
{"k":"W","x":343,"y":1165,"t":"DAI"},{"k":"X","x":325,"y":976,"t":"удущее"},{"k":"Z","x":299,"y":703,"t":"N E R Y"},{"k":"O","x":318,"y":462,"t":"БЬЮТОР"}],
"b3":[
{"k":"g","x":500,"x2":500,"y":600,"y2":1982},{"k":"g","x":600,"x2":600,"y":600,"y2":1982},{"k":"g","x":700,"x2":700,"y":600,"y2":1800},{"k":"g","x":800,"x2":800,"y":600,"y2":1800},{"k":"g","x":900,"x2":900,"y":600,"y2":1500},{"k":"g","x":1000,"x2":1000,"y":600,"y2":1500},{"k":"g","x":1100,"x2":1100,"y":600,"y2":1500},
{"k":"g","x":305,"x2":600,"y":1982,"y2":1982},{"k":"g","x":305,"x2":800,"y":1800,"y2":1800},{"k":"g","x":305,"x2":1100,"y":1500,"y2":1500},{"k":"g","x":305,"x2":1100,"y":1200,"y2":1200},{"k":"g","x":305,"x2":1100,"y":900,"y2":900},
{"k":"c","s":"m","x":305,"y":1750},{"k":"c","s":"m","x":500,"y":1750},{"k":"c","s":"m","x":600,"y":1616},{"k":"c","s":"m","x":700,"y":1501},{"k":"c","s":"m","x":800,"y":1402},{"k":"c","s":"m","x":900,"y":1314},{"k":"c","s":"m","x":1000,"y":1237},{"k":"c","s":"m","x":1100,"y":1169},
{"k":"c","s":"b","x":305,"y":1700},{"k":"c","s":"b","x":500,"y":1700},{"k":"c","s":"b","x":600,"y":1573},{"k":"c","s":"b","x":700,"y":1464},{"k":"c","s":"b","x":800,"y":1368},{"k":"c","s":"b","x":900,"y":1285},{"k":"c","s":"b","x":1000,"y":1211},{"k":"c","s":"b","x":1100,"y":1145},
{"k":"c","s":"g","x":305,"y":1600},{"k":"c","s":"g","x":500,"y":1600},{"k":"c","s":"g","x":600,"y":1484},{"k":"c","s":"g","x":700,"y":1384},{"k":"c","s":"g","x":800,"y":1297},{"k":"c","s":"g","x":900,"y":1220},{"k":"c","s":"g","x":1000,"y":1151},{"k":"c","s":"g","x":1100,"y":1090},
{"k":"c","s":"o","x":305,"y":1350},{"k":"c","s":"o","x":500,"y":1350},{"k":"c","s":"o","x":600,"y":1259},{"k":"c","s":"o","x":700,"y":1180},{"k":"c","s":"o","x":800,"y":1110},{"k":"c","s":"o","x":900,"y":1048},{"k":"c","s":"o","x":1000,"y":992},{"k":"c","s":"o","x":1100,"y":942},
{"k":"c","s":"k","x":305,"y":1050},{"k":"c","s":"k","x":500,"y":1050},{"k":"c","s":"k","x":600,"y":989},{"k":"c","s":"k","x":700,"y":935},{"k":"c","s":"k","x":800,"y":886},{"k":"c","s":"k","x":900,"y":842},{"k":"c","s":"k","x":1000,"y":802},{"k":"c","s":"k","x":1100,"y":766},
{"k":"f","x":277,"x2":305,"y":525,"y2":2117},{"k":"f","x":217,"x2":305,"y":2037,"y2":2117},{"k":"f","x":217,"x2":248,"y":1954,"y2":2117},
{"k":"b","x":277,"y":600,"y2":525},{"k":"b","x":1058,"y":600,"y2":525},{"k":"b","x":1220,"y":600,"y2":556},
{"k":"l","id":1,"x":1112,"y":2035},{"k":"l","id":1,"x":857,"y":2035},{"k":"l","id":1,"x":698,"y":1528,"a":1},
{"k":"l","id":2,"x":1112,"y":1918},{"k":"l","id":2,"x":893,"y":1918},{"k":"l","id":2,"x":740,"y":1429,"a":1},
{"k":"l","id":3,"x":1112,"y":1788},{"k":"l","id":3,"x":942,"y":1788},{"k":"l","id":3,"x":781,"y":1314,"a":1},
{"k":"l","id":4,"x":1112,"y":1664},{"k":"l","id":4,"x":976,"y":1664},{"k":"l","id":4,"x":805,"y":1126,"a":1},
{"k":"l","id":5,"x":1112,"y":1534},{"k":"l","id":5,"x":1030,"y":1534},{"k":"l","id":5,"x":825,"y":897,"a":1},
{"k":"t","x":1131,"y":2038,"t":"4.0\u00a0 м"},{"k":"t","x":1131,"y":1918,"t":"4.5\u00a0 м"},{"k":"t","x":1131,"y":1791,"t":"5.0\u00a0 м"},{"k":"t","x":1131,"y":1667,"t":"6.0\u00a0 м"},{"k":"t","x":1131,"y":1543,"t":"7.0\u00a0 м"},
{"k":"u","x":1140,"y":2163,"t":"TF/TS  MAST"},
{"k":"w1","x":1143,"y":1449,"y2":1449},{"k":"w1","x":1304,"y":2038,"y2":1449},{"k":"w1","x":1465,"y":1449,"y2":1449},
{"k":"w2","x":1179,"y":1449,"y2":1449},{"k":"w2","x":1343,"y":2038,"y2":1449},{"k":"w2","x":1502,"y":1449,"y2":1449}],
"c3":[
{"k":"g","x":500,"x2":500,"y":800,"y2":2187},{"k":"g","x":600,"x2":600,"y":800,"y2":2187},{"k":"g","x":700,"x2":700,"y":800,"y2":2000},{"k":"g","x":800,"x2":800,"y":800,"y2":1700},{"k":"g","x":900,"x2":900,"y":800,"y2":1700},{"k":"g","x":1000,"x2":1000,"y":800,"y2":1700},{"k":"g","x":1100,"x2":1100,"y":800,"y2":1400},
{"k":"g","x":305,"x2":600,"y":2187,"y2":2187},{"k":"g","x":305,"x2":700,"y":2000,"y2":2000},{"k":"g","x":305,"x2":1000,"y":1700,"y2":1700},{"k":"g","x":305,"x2":1100,"y":1400,"y2":1400},{"k":"g","x":305,"x2":1100,"y":1100,"y2":1100},
{"k":"c","s":"m","x":305,"y":1950},{"k":"c","s":"m","x":500,"y":1950},{"k":"c","s":"m","x":600,"y":1802},{"k":"c","s":"m","x":700,"y":1675},{"k":"c","s":"m","x":800,"y":1565},{"k":"c","s":"m","x":900,"y":1468},{"k":"c","s":"m","x":1000,"y":1383},{"k":"c","s":"m","x":1100,"y":1307},
{"k":"c","s":"b","x":305,"y":1905},{"k":"c","s":"b","x":500,"y":1905},{"k":"c","s":"b","x":600,"y":1763},{"k":"c","s":"b","x":700,"y":1641},{"k":"c","s":"b","x":800,"y":1534},{"k":"c","s":"b","x":900,"y":1441},{"k":"c","s":"b","x":1000,"y":1358},{"k":"c","s":"b","x":1100,"y":1284},
{"k":"c","s":"g","x":305,"y":1800},{"k":"c","s":"g","x":500,"y":1800},{"k":"c","s":"g","x":600,"y":1672},{"k":"c","s":"g","x":700,"y":1562},{"k":"c","s":"g","x":800,"y":1465},{"k":"c","s":"g","x":900,"y":1379},{"k":"c","s":"g","x":1000,"y":1303},{"k":"c","s":"g","x":1100,"y":1235},
{"k":"c","s":"o","x":305,"y":1600},{"k":"c","s":"o","x":500,"y":1600},{"k":"c","s":"o","x":600,"y":1494},{"k":"c","s":"o","x":700,"y":1402},{"k":"c","s":"o","x":800,"y":1320},{"k":"c","s":"o","x":900,"y":1247},{"k":"c","s":"o","x":1000,"y":1182},{"k":"c","s":"o","x":1100,"y":1123},
{"k":"c","s":"k","x":305,"y":1150},{"k":"c","s":"k","x":500,"y":1150},{"k":"c","s":"k","x":600,"y":1088},{"k":"c","s":"k","x":700,"y":1033},{"k":"c","s":"k","x":800,"y":983},{"k":"c","s":"k","x":900,"y":937},{"k":"c","s":"k","x":1000,"y":896},{"k":"c","s":"k","x":1100,"y":858},
{"k":"f","x":277,"x2":305,"y":725,"y2":2317},{"k":"f","x":217,"x2":305,"y":2237,"y2":2317},{"k":"f","x":217,"x2":248,"y":2154,"y2":2317},
{"k":"b","x":277,"y":800,"y2":725},{"k":"b","x":1058,"y":800,"y2":725},{"k":"b","x":1220,"y":800,"y2":756},
{"k":"l","id":1,"x":1112,"y":2232},{"k":"l","id":1,"x":859,"y":2232},{"k":"l","id":1,"x":683,"y":1678,"a":1},
{"k":"l","id":2,"x":1112,"y":2115},{"k":"l","id":2,"x":895,"y":2115},{"k":"l","id":2,"x":731,"y":1601,"a":1},
{"k":"l","id":3,"x":1112,"y":1985},{"k":"l","id":3,"x":945,"y":1985},{"k":"l","id":3,"x":777,"y":1482,"a":1},
{"k":"l","id":4,"x":1112,"y":1861},{"k":"l","id":4,"x":975,"y":1861},{"k":"l","id":4,"x":804,"y":1301,"a":1},
{"k":"l","id":5,"x":1112,"y":1736},{"k":"l","id":5,"x":1033,"y":1736},{"k":"l","id":5,"x":795,"y":995,"a":1},
{"k":"t","x":1133,"y":2218,"t":"4.0\u00a0 м"},{"k":"t","x":1133,"y":2090,"t":"4.5\u00a0 м"},{"k":"t","x":1133,"y":1966,"t":"5.0\u00a0 м"},{"k":"t","x":1133,"y":1842,"t":"6.0\u00a0 м"},{"k":"t","x":1133,"y":1712,"t":"7.0\u00a0 м"},
{"k":"u","x":1139,"y":2360,"t":"TF/TS  MAST"},
{"k":"W","x":582,"y":1626,"t":"HYUNDAI"},{"k":"X","x":582,"y":1390,"t":"мы строим лучшее будущее"},{"k":"Y","x":-252,"y":1051,"t":"G L O B A L"},{"k":"Z","x":476,"y":1051,"t":"M A C H I N E R Y"},{"k":"O","x":582,"y":750,"t":"ОФИЦИАЛЬНЫЙ ДИСТРИБЬЮТОР"}]
},
"concat":[
{"width":1204,"height":850,"data":{"name":"a1"},"encoding":{"x":{"field":"x","type":"quantitative","scale":{"domain":[-103,1689.5]},"axis":{"values":[500,700,900],"offset":-91,"title":"ЦЕНТР ТЯЖЕСТИ (мм)","titleX":503,"titleY":60}},"y":{"field":"y","type":"quantitative","scale":{"domain":[558.3,2329.2]},"axis":{"values":[800,1000,1200,1400,1600],"offset":-255,"title":"МАССА (кг)","titleX":-138,"titleY":512}}},
"layer":[
{"transform":[{"filter":"datum.k=='g'"}],"mark":{"type":"rule"},"encoding":{"x2":{"field":"x2"},"y2":{"field":"y2"}}},
{"transform":[{"filter":"datum.k=='c'"}],"mark":{"type":"line","strokeWidth":8,"strokeJoin":"round"},"encoding":{"color":{"field":"s","scale":{"domain":["m","b","g","o","k"],"range":["#EC008C","#00AEEF","#6CC04A","#F58220","#000000"]},"legend":null}}},
{"transform":[{"filter":"datum.k=='f'"}],"mark":{"type":"rect","color":"black"},"encoding":{"x2":{"field":"x2"},"y2":{"field":"y2"}}},
{"transform":[{"filter":"datum.k=='b'"}],"mark":{"type":"area","color":"black"},"encoding":{"y2":{"field":"y2"}}},
{"transform":[{"filter":"datum.k=='l'"}],"mark":{"type":"line"},"encoding":{"detail":{"field":"id"},"order":{"value":null}}},
{"transform":[{"filter":"datum.k=='l'&&datum.a"}],"mark":{"type":"point","shape":"M-0.35,-1L0,0L0.35,-1","size":2304,"filled":false,"stroke":"#444","strokeWidth":2.5,"opacity":1,"angle":44}},
{"transform":[{"filter":"datum.k=='t'"}],"mark":{"type":"text","style":"lb"},"encoding":{"text":{"field":"t"}}},
{"transform":[{"filter":"datum.k=='u'"}],"mark":{"type":"text","style":"ce"},"encoding":{"text":{"field":"t"}}},
{"transform":[{"filter":"datum.k=='h'"}],"mark":{"type":"text","style":"hd"},"encoding":{"text":{"field":"t"}}},
{"transform":[{"filter":"datum.k=='r'"}],"mark":{"type":"rule","color":"#333","strokeWidth":3},"encoding":{"x2":{"field":"x2"},"y2":{"field":"y2"}}},
{"transform":[{"filter":"datum.k=='W'"}],"mark":{"type":"text","style":"wm","clip":true,"align":"right","fontSize":250,"fontWeight":"bold"},"encoding":{"text":{"field":"t"}}},
{"transform":[{"filter":"datum.k=='X'"}],"mark":{"type":"text","style":"wm","clip":true,"align":"right","fontSize":80,"fontWeight":"bold"},"encoding":{"text":{"field":"t"}}},
{"transform":[{"filter":"datum.k=='Z'"}],"mark":{"type":"text","style":"wm","clip":true,"align":"right","fontSize":78},"encoding":{"text":{"field":"t"}}},
{"transform":[{"filter":"datum.k=='O'"}],"mark":{"type":"text","style":"wm","clip":true,"align":"right","fontSize":67},"encoding":{"text":{"field":"t"}}}
]},
{"width":1204,"height":850,"data":{"name":"b1"},"encoding":{"x":{"field":"x","type":"quantitative","scale":{"domain":[-103,1689.5]},"axis":{"values":[500,700,900],"offset":-91,"title":"ЦЕНТР ТЯЖЕСТИ (мм)","titleX":499,"titleY":52}},"y":{"field":"y","type":"quantitative","scale":{"domain":[758.3,2529.2]},"axis":{"values":[1000,1200,1400,1600,1800],"offset":-255,"title":"МАССА (кг)","titleX":-147,"titleY":512}}},
"layer":[
{"transform":[{"filter":"datum.k=='w1'"}],"mark":{"type":"area","color":"#c4c4c4"},"encoding":{"y2":{"field":"y2"}}},
{"transform":[{"filter":"datum.k=='w2'"}],"mark":{"type":"area","color":"#ababab"},"encoding":{"y2":{"field":"y2"}}},
{"transform":[{"filter":"datum.k=='g'"}],"mark":{"type":"rule"},"encoding":{"x2":{"field":"x2"},"y2":{"field":"y2"}}},
{"transform":[{"filter":"datum.k=='c'"}],"mark":{"type":"line","strokeWidth":8,"strokeJoin":"round"},"encoding":{"color":{"field":"s","scale":{"domain":["m","b","g","o","k"],"range":["#EC008C","#00AEEF","#6CC04A","#F58220","#000000"]},"legend":null}}},
{"transform":[{"filter":"datum.k=='f'"}],"mark":{"type":"rect","color":"black"},"encoding":{"x2":{"field":"x2"},"y2":{"field":"y2"}}},
{"transform":[{"filter":"datum.k=='b'"}],"mark":{"type":"area","color":"black"},"encoding":{"y2":{"field":"y2"}}},
{"transform":[{"filter":"datum.k=='l'"}],"mark":{"type":"line"},"encoding":{"detail":{"field":"id"},"order":{"value":null}}},
{"transform":[{"filter":"datum.k=='l'&&datum.a"}],"mark":{"type":"point","shape":"M-0.35,-1L0,0L0.35,-1","size":2304,"filled":false,"stroke":"#444","strokeWidth":2.5,"opacity":1,"angle":44}},
{"transform":[{"filter":"datum.k=='t'"}],"mark":{"type":"text","style":"lb"},"encoding":{"text":{"field":"t"}}},
{"transform":[{"filter":"datum.k=='u'"}],"mark":{"type":"text","style":"ce"},"encoding":{"text":{"field":"t"}}},
{"transform":[{"filter":"datum.k=='h'"}],"mark":{"type":"text","style":"hd"},"encoding":{"text":{"field":"t"}}},
{"transform":[{"filter":"datum.k=='r'"}],"mark":{"type":"rule","color":"#333","strokeWidth":3},"encoding":{"x2":{"field":"x2"},"y2":{"field":"y2"}}}
]},
{"width":1106,"height":850,"data":{"name":"c1"},"encoding":{"x":{"field":"x","type":"quantitative","scale":{"domain":[-103,1543.6]},"axis":{"values":[500,700,900],"offset":-91,"title":"ЦЕНТР ТЯЖЕСТИ (мм)","titleX":535,"titleY":61}},"y":{"field":"y","type":"quantitative","scale":{"domain":[958.3,2729.2]},"axis":{"values":[1200,1400,1600,1800,2000],"offset":-255,"title":"МАССА (кг)","titleX":-153,"titleY":512}}},
"layer":[
{"transform":[{"filter":"datum.k=='g'"}],"mark":{"type":"rule"},"encoding":{"x2":{"field":"x2"},"y2":{"field":"y2"}}},
{"transform":[{"filter":"datum.k=='c'"}],"mark":{"type":"line","strokeWidth":8,"strokeJoin":"round"},"encoding":{"color":{"field":"s","scale":{"domain":["m","b","g","o","k"],"range":["#EC008C","#00AEEF","#6CC04A","#F58220","#000000"]},"legend":null}}},
{"transform":[{"filter":"datum.k=='f'"}],"mark":{"type":"rect","color":"black"},"encoding":{"x2":{"field":"x2"},"y2":{"field":"y2"}}},
{"transform":[{"filter":"datum.k=='b'"}],"mark":{"type":"area","color":"black"},"encoding":{"y2":{"field":"y2"}}},
{"transform":[{"filter":"datum.k=='l'"}],"mark":{"type":"line"},"encoding":{"detail":{"field":"id"},"order":{"value":null}}},
{"transform":[{"filter":"datum.k=='l'&&datum.a"}],"mark":{"type":"point","shape":"M-0.35,-1L0,0L0.35,-1","size":2304,"filled":false,"stroke":"#444","strokeWidth":2.5,"opacity":1,"angle":44}},
{"transform":[{"filter":"datum.k=='t'"}],"mark":{"type":"text","style":"lb"},"encoding":{"text":{"field":"t"}}},
{"transform":[{"filter":"datum.k=='u'"}],"mark":{"type":"text","style":"ce"},"encoding":{"text":{"field":"t"}}},
{"transform":[{"filter":"datum.k=='h'"}],"mark":{"type":"text","style":"hd"},"encoding":{"text":{"field":"t"}}},
{"transform":[{"filter":"datum.k=='r'"}],"mark":{"type":"rule","color":"#333","strokeWidth":3},"encoding":{"x2":{"field":"x2"},"y2":{"field":"y2"}}},
{"transform":[{"filter":"datum.k=='W'"}],"mark":{"type":"text","style":"wm","align":"center","fontSize":250,"fontWeight":"bold"},"encoding":{"text":{"field":"t"}}},
{"transform":[{"filter":"datum.k=='X'"}],"mark":{"type":"text","style":"wm","align":"center","fontSize":80,"fontWeight":"bold"},"encoding":{"text":{"field":"t"}}},
{"transform":[{"filter":"datum.k=='Y'"}],"mark":{"type":"text","style":"wm","align":"left","fontSize":78,"fontWeight":"bold","opacity":0.5},"encoding":{"text":{"field":"t"}}},
{"transform":[{"filter":"datum.k=='Z'"}],"mark":{"type":"text","style":"wm","align":"left","fontSize":78},"encoding":{"text":{"field":"t"}}},
{"transform":[{"filter":"datum.k=='O'"}],"mark":{"type":"text","style":"wm","align":"center","fontSize":67},"encoding":{"text":{"field":"t"}}}
]},
{"width":1204,"height":630,"data":{"name":"a2"},"encoding":{"x":{"field":"x","type":"quantitative","scale":{"domain":[-103,1689.5]},"axis":{"values":[500,700,900],"offset":-89,"title":"ЦЕНТР ТЯЖЕСТИ (мм)","titleX":525,"titleY":60}},"y":{"field":"y","type":"quantitative","scale":{"domain":[318.2,1889.3]},"axis":{"values":[600,800,1000,1200,1400,1600],"offset":-255,"title":"МАССА (кг)","titleX":-138,"titleY":277}}},
"layer":[
{"transform":[{"filter":"datum.k=='g'"}],"mark":{"type":"rule"},"encoding":{"x2":{"field":"x2"},"y2":{"field":"y2"}}},
{"transform":[{"filter":"datum.k=='c'"}],"mark":{"type":"line","strokeWidth":8,"strokeJoin":"round"},"encoding":{"color":{"field":"s","scale":{"domain":["m","b","g","o","k"],"range":["#EC008C","#00AEEF","#6CC04A","#F58220","#000000"]},"legend":null}}},
{"transform":[{"filter":"datum.k=='f'"}],"mark":{"type":"rect","color":"black"},"encoding":{"x2":{"field":"x2"},"y2":{"field":"y2"}}},
{"transform":[{"filter":"datum.k=='b'"}],"mark":{"type":"area","color":"black"},"encoding":{"y2":{"field":"y2"}}},
{"transform":[{"filter":"datum.k=='l'"}],"mark":{"type":"line"},"encoding":{"detail":{"field":"id"},"order":{"value":null}}},
{"transform":[{"filter":"datum.k=='l'&&datum.a"}],"mark":{"type":"point","shape":"M-0.35,-1L0,0L0.35,-1","size":2304,"filled":false,"stroke":"#444","strokeWidth":2.5,"opacity":1,"angle":33}},
{"transform":[{"filter":"datum.k=='t'"}],"mark":{"type":"text","style":"lr"},"encoding":{"text":{"field":"t"}}},
{"transform":[{"filter":"datum.k=='u'"}],"mark":{"type":"text","style":"ce"},"encoding":{"text":{"field":"t"}}}
]},
{"width":1204,"height":630,"data":{"name":"b2"},"encoding":{"x":{"field":"x","type":"quantitative","scale":{"domain":[-103,1689.5]},"axis":{"values":[500,700,900],"offset":-89,"title":"ЦЕНТР ТЯЖЕСТИ (мм)","titleX":506,"titleY":63}},"y":{"field":"y","type":"quantitative","scale":{"domain":[518.2,2089.3]},"axis":{"values":[800,1000,1200,1400,1600,1800],"offset":-255,"title":"МАССА (кг)","titleX":-147,"titleY":278}}},
"layer":[
{"transform":[{"filter":"datum.k=='g'"}],"mark":{"type":"rule"},"encoding":{"x2":{"field":"x2"},"y2":{"field":"y2"}}},
{"transform":[{"filter":"datum.k=='c'"}],"mark":{"type":"line","strokeWidth":8,"strokeJoin":"round"},"encoding":{"color":{"field":"s","scale":{"domain":["m","b","g","o","k"],"range":["#EC008C","#00AEEF","#6CC04A","#F58220","#000000"]},"legend":null}}},
{"transform":[{"filter":"datum.k=='f'"}],"mark":{"type":"rect","color":"black"},"encoding":{"x2":{"field":"x2"},"y2":{"field":"y2"}}},
{"transform":[{"filter":"datum.k=='b'"}],"mark":{"type":"area","color":"black"},"encoding":{"y2":{"field":"y2"}}},
{"transform":[{"filter":"datum.k=='l'"}],"mark":{"type":"line"},"encoding":{"detail":{"field":"id"},"order":{"value":null}}},
{"transform":[{"filter":"datum.k=='l'&&datum.a"}],"mark":{"type":"point","shape":"M-0.35,-1L0,0L0.35,-1","size":2304,"filled":false,"stroke":"#444","strokeWidth":2.5,"opacity":1,"angle":33}},
{"transform":[{"filter":"datum.k=='t'"}],"mark":{"type":"text","style":"lr"},"encoding":{"text":{"field":"t"}}},
{"transform":[{"filter":"datum.k=='u'"}],"mark":{"type":"text","style":"ce"},"encoding":{"text":{"field":"t"}}}
]},
{"width":1106,"height":630,"data":{"name":"c2"},"encoding":{"x":{"field":"x","type":"quantitative","scale":{"domain":[-103,1543.6]},"axis":{"values":[500,700,900],"offset":-89,"title":"ЦЕНТР ТЯЖЕСТИ (мм)","titleX":510,"titleY":60}},"y":{"field":"y","type":"quantitative","scale":{"domain":[448,2410.6]},"axis":{"values":[800,1100,1400,1700,2000],"offset":-255,"title":"МАССА (кг)","titleX":-153,"titleY":278}}},
"layer":[
{"transform":[{"filter":"datum.k=='g'"}],"mark":{"type":"rule"},"encoding":{"x2":{"field":"x2"},"y2":{"field":"y2"}}},
{"transform":[{"filter":"datum.k=='c'"}],"mark":{"type":"line","strokeWidth":8,"strokeJoin":"round"},"encoding":{"color":{"field":"s","scale":{"domain":["m","b","g","o","k"],"range":["#EC008C","#00AEEF","#6CC04A","#F58220","#000000"]},"legend":null}}},
{"transform":[{"filter":"datum.k=='f'"}],"mark":{"type":"rect","color":"black"},"encoding":{"x2":{"field":"x2"},"y2":{"field":"y2"}}},
{"transform":[{"filter":"datum.k=='b'"}],"mark":{"type":"area","color":"black"},"encoding":{"y2":{"field":"y2"}}},
{"transform":[{"filter":"datum.k=='l'"}],"mark":{"type":"line"},"encoding":{"detail":{"field":"id"},"order":{"value":null}}},
{"transform":[{"filter":"datum.k=='l'&&datum.a"}],"mark":{"type":"point","shape":"M-0.35,-1L0,0L0.35,-1","size":2304,"filled":false,"stroke":"#444","strokeWidth":2.5,"opacity":1,"angle":33}},
{"transform":[{"filter":"datum.k=='t'"}],"mark":{"type":"text","style":"lr"},"encoding":{"text":{"field":"t"}}},
{"transform":[{"filter":"datum.k=='u'"}],"mark":{"type":"text","style":"ce"},"encoding":{"text":{"field":"t"}}}
]},
{"width":1204,"height":649,"data":{"name":"a3"},"encoding":{"x":{"field":"x","type":"quantitative","scale":{"domain":[-103,1689.5]},"axis":{"values":[500,700,900,1100],"offset":-98,"title":"ЦЕНТР ТЯЖЕСТИ (мм)","titleX":530,"titleY":69}},"y":{"field":"y","type":"quantitative","scale":{"domain":[196,1808]},"axis":{"values":[500,700,900,1100,1300,1500],"offset":-255,"title":"МАССА (кг)","titleX":-138,"titleY":324}}},
"layer":[
{"transform":[{"filter":"datum.k=='g'"}],"mark":{"type":"rule"},"encoding":{"x2":{"field":"x2"},"y2":{"field":"y2"}}},
{"transform":[{"filter":"datum.k=='c'"}],"mark":{"type":"line","strokeWidth":8,"strokeJoin":"round"},"encoding":{"color":{"field":"s","scale":{"domain":["m","b","g","o","k"],"range":["#EC008C","#00AEEF","#6CC04A","#F58220","#000000"]},"legend":null}}},
{"transform":[{"filter":"datum.k=='f'"}],"mark":{"type":"rect","color":"black"},"encoding":{"x2":{"field":"x2"},"y2":{"field":"y2"}}},
{"transform":[{"filter":"datum.k=='b'"}],"mark":{"type":"area","color":"black"},"encoding":{"y2":{"field":"y2"}}},
{"transform":[{"filter":"datum.k=='l'"}],"mark":{"type":"line"},"encoding":{"detail":{"field":"id"},"order":{"value":null}}},
{"transform":[{"filter":"datum.k=='l'&&datum.a"}],"mark":{"type":"point","shape":"M-0.35,-1L0,0L0.35,-1","size":2304,"filled":false,"stroke":"#444","strokeWidth":2.5,"opacity":1,"angle":33}},
{"transform":[{"filter":"datum.k=='t'"}],"mark":{"type":"text","style":"lr"},"encoding":{"text":{"field":"t"}}},
{"transform":[{"filter":"datum.k=='u'"}],"mark":{"type":"text","style":"ce"},"encoding":{"text":{"field":"t"}}},
{"transform":[{"filter":"datum.k=='W'"}],"mark":{"type":"text","style":"wm","clip":true,"align":"right","fontSize":250,"fontWeight":"bold"},"encoding":{"text":{"field":"t"}}},
{"transform":[{"filter":"datum.k=='X'"}],"mark":{"type":"text","style":"wm","clip":true,"align":"right","fontSize":80,"fontWeight":"bold"},"encoding":{"text":{"field":"t"}}},
{"transform":[{"filter":"datum.k=='Z'"}],"mark":{"type":"text","style":"wm","clip":true,"align":"right","fontSize":78},"encoding":{"text":{"field":"t"}}},
{"transform":[{"filter":"datum.k=='O'"}],"mark":{"type":"text","style":"wm","clip":true,"align":"right","fontSize":67},"encoding":{"text":{"field":"t"}}}
]},
{"width":1204,"height":649,"data":{"name":"b3"},"encoding":{"x":{"field":"x","type":"quantitative","scale":{"domain":[-103,1689.5]},"axis":{"values":[500,700,900,1100],"offset":-98,"title":null}},"y":{"field":"y","type":"quantitative","scale":{"domain":[222.6,2230]},"axis":{"values":[600,900,1200,1500,1800],"offset":-255,"title":"МАССА (кг)","titleX":-147,"titleY":324}}},
"layer":[
{"transform":[{"filter":"datum.k=='w1'"}],"mark":{"type":"area","color":"#c4c4c4"},"encoding":{"y2":{"field":"y2"}}},
{"transform":[{"filter":"datum.k=='w2'"}],"mark":{"type":"area","color":"#ababab"},"encoding":{"y2":{"field":"y2"}}},
{"transform":[{"filter":"datum.k=='g'"}],"mark":{"type":"rule"},"encoding":{"x2":{"field":"x2"},"y2":{"field":"y2"}}},
{"transform":[{"filter":"datum.k=='c'"}],"mark":{"type":"line","strokeWidth":8,"strokeJoin":"round"},"encoding":{"color":{"field":"s","scale":{"domain":["m","b","g","o","k"],"range":["#EC008C","#00AEEF","#6CC04A","#F58220","#000000"]},"legend":null}}},
{"transform":[{"filter":"datum.k=='f'"}],"mark":{"type":"rect","color":"black"},"encoding":{"x2":{"field":"x2"},"y2":{"field":"y2"}}},
{"transform":[{"filter":"datum.k=='b'"}],"mark":{"type":"area","color":"black"},"encoding":{"y2":{"field":"y2"}}},
{"transform":[{"filter":"datum.k=='l'"}],"mark":{"type":"line"},"encoding":{"detail":{"field":"id"},"order":{"value":null}}},
{"transform":[{"filter":"datum.k=='l'&&datum.a"}],"mark":{"type":"point","shape":"M-0.35,-1L0,0L0.35,-1","size":2304,"filled":false,"stroke":"#444","strokeWidth":2.5,"opacity":1,"angle":33}},
{"transform":[{"filter":"datum.k=='t'"}],"mark":{"type":"text","style":"lr"},"encoding":{"text":{"field":"t"}}},
{"transform":[{"filter":"datum.k=='u'"}],"mark":{"type":"text","style":"ce"},"encoding":{"text":{"field":"t"}}}
]},
{"width":1106,"height":649,"data":{"name":"c3"},"encoding":{"x":{"field":"x","type":"quantitative","scale":{"domain":[-103,1543.6]},"axis":{"values":[500,700,900,1100],"offset":-98,"title":"ЦЕНТР ТЯЖЕСТИ (мм)","titleX":540,"titleY":69}},"y":{"field":"y","type":"quantitative","scale":{"domain":[419.5,2427]},"axis":{"values":[800,1100,1400,1700,2000],"offset":-255,"title":"МАССА (кг)","titleX":-153,"titleY":324}}},
"layer":[
{"transform":[{"filter":"datum.k=='g'"}],"mark":{"type":"rule"},"encoding":{"x2":{"field":"x2"},"y2":{"field":"y2"}}},
{"transform":[{"filter":"datum.k=='c'"}],"mark":{"type":"line","strokeWidth":8,"strokeJoin":"round"},"encoding":{"color":{"field":"s","scale":{"domain":["m","b","g","o","k"],"range":["#EC008C","#00AEEF","#6CC04A","#F58220","#000000"]},"legend":null}}},
{"transform":[{"filter":"datum.k=='f'"}],"mark":{"type":"rect","color":"black"},"encoding":{"x2":{"field":"x2"},"y2":{"field":"y2"}}},
{"transform":[{"filter":"datum.k=='b'"}],"mark":{"type":"area","color":"black"},"encoding":{"y2":{"field":"y2"}}},
{"transform":[{"filter":"datum.k=='l'"}],"mark":{"type":"line"},"encoding":{"detail":{"field":"id"},"order":{"value":null}}},
{"transform":[{"filter":"datum.k=='l'&&datum.a"}],"mark":{"type":"point","shape":"M-0.35,-1L0,0L0.35,-1","size":2304,"filled":false,"stroke":"#444","strokeWidth":2.5,"opacity":1,"angle":33}},
{"transform":[{"filter":"datum.k=='t'"}],"mark":{"type":"text","style":"lr"},"encoding":{"text":{"field":"t"}}},
{"transform":[{"filter":"datum.k=='u'"}],"mark":{"type":"text","style":"ce"},"encoding":{"text":{"field":"t"}}},
{"transform":[{"filter":"datum.k=='W'"}],"mark":{"type":"text","style":"wm","align":"center","fontSize":250,"fontWeight":"bold"},"encoding":{"text":{"field":"t"}}},
{"transform":[{"filter":"datum.k=='X'"}],"mark":{"type":"text","style":"wm","align":"center","fontSize":80,"fontWeight":"bold"},"encoding":{"text":{"field":"t"}}},
{"transform":[{"filter":"datum.k=='Y'"}],"mark":{"type":"text","style":"wm","align":"left","fontSize":78,"fontWeight":"bold","opacity":0.5},"encoding":{"text":{"field":"t"}}},
{"transform":[{"filter":"datum.k=='Z'"}],"mark":{"type":"text","style":"wm","align":"left","fontSize":78},"encoding":{"text":{"field":"t"}}},
{"transform":[{"filter":"datum.k=='O'"}],"mark":{"type":"text","style":"wm","align":"center","fontSize":67},"encoding":{"text":{"field":"t"}}}
]}
]}
